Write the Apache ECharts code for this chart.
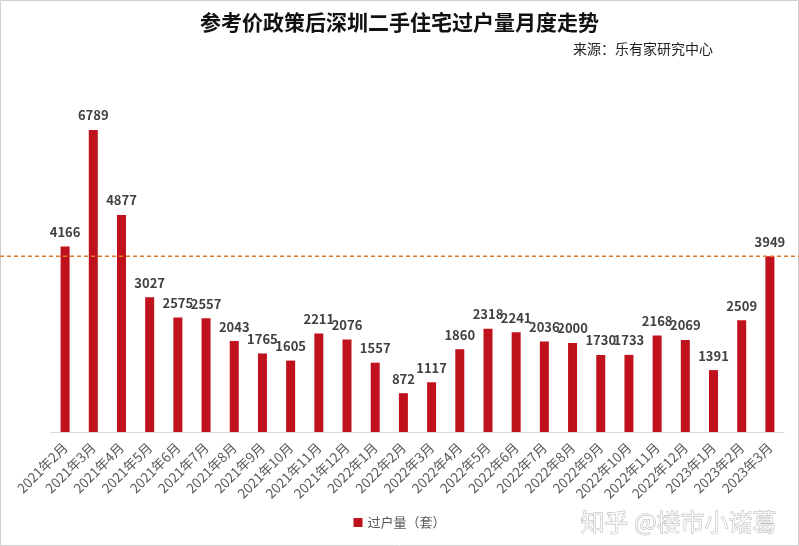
<!DOCTYPE html>
<html><head><meta charset="utf-8">
<script src="https://cdn.jsdelivr.net/npm/echarts@6/dist/echarts.min.js"></script>
<style>html,body{margin:0;padding:0;background:#fff}#c{width:799px;height:546px}</style>
</head><body><div id="c"></div>
<script>
var categories = ["2021年2月","2021年3月","2021年4月","2021年5月","2021年6月","2021年7月","2021年8月","2021年9月","2021年10月","2021年11月","2021年12月","2022年1月","2022年2月","2022年3月","2022年4月","2022年5月","2022年6月","2022年7月","2022年8月","2022年9月","2022年10月","2022年11月","2022年12月","2023年1月","2023年2月","2023年3月"];
var transfers = [4166,6789,4877,3027,2575,2557,2043,1765,1605,2211,2076,1557,872,1117,1860,2318,2241,2036,2000,1730,1733,2168,2069,1391,2509,3949];
var referenceLevel = 3949;
var titleText = "参考价政策后深圳二手住宅过户量月度走势";
var sourceText = "来源：乐有家研究中心";
var seriesName = "过户量（套）";
var watermark = "知乎 @楼市小诸葛";

var chart = echarts.init(document.getElementById('c'), null, {renderer:'canvas'});
var font = '"Noto Sans CJK SC","Noto Sans",sans-serif';
chart.setOption({
  animation:false,
  backgroundColor:'#fff',
  title:[{text:titleText,left:'center',top:7,textStyle:{fontSize:21,fontWeight:'bold',color:'#111',fontFamily:font}},
         {text:sourceText,right:81,top:37,textStyle:{fontSize:14,fontWeight:'normal',color:'#222',fontFamily:font}}],
  legend:{data:[seriesName],bottom:12,left:'center',itemWidth:9,itemHeight:9,icon:'rect',textStyle:{fontSize:13,color:'#595959',fontFamily:font}},
  grid:{left:51,right:15,top:76,bottom:114},
  xAxis:{type:'category',data:categories,axisTick:{show:false},
    axisLine:{lineStyle:{color:'#d9d9d9'}},
    axisLabel:{rotate:45,interval:0,fontSize:13.5,color:'#595959',fontFamily:font,margin:13}},
  yAxis:{type:'value',min:0,max:8000,show:false,splitLine:{show:false}},
  series:[{name:seriesName,type:'bar',data:transfers,barWidth:9,
    itemStyle:{color:'#c0121c'},
    label:{show:true,position:'top',distance:8,fontSize:13,fontWeight:'bold',color:'#404040',fontFamily:font}}]
});
var y = chart.convertToPixel({yAxisIndex:0}, referenceLevel);
chart.setOption({graphic:[
  {type:'line',shape:{x1:0,y1:y,x2:799,y2:y},style:{stroke:'#e0782a',lineWidth:1.3,lineDash:[4,3]},z:10},
  {type:'rect',shape:{x:0.5,y:0.5,width:798,height:545},style:{fill:'none',stroke:'#d0d0d0',lineWidth:1}},
  {type:'text',right:22,bottom:12,style:{text:watermark,fontSize:24,fill:'rgba(255,255,255,0.7)',stroke:'#b4b4b4',lineWidth:0.8,fontFamily:font}}
]});
</script></body></html>
